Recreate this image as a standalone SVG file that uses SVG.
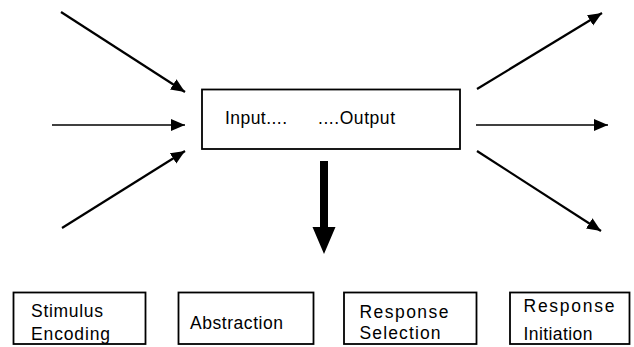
<svg xmlns="http://www.w3.org/2000/svg" width="634" height="347" viewBox="0 0 634 347">
<defs>
<marker id="ah" markerUnits="userSpaceOnUse" markerWidth="16" markerHeight="14" refX="14" refY="6" orient="auto" viewBox="0 0 16 14">
<path d="M0,0 L14,6 L0,12 z" fill="#000"/>
</marker>
<style>
.box{fill:#fff;stroke:#000;stroke-width:1.8}
.t{font-family:"Liberation Sans",Arial,sans-serif;font-size:17.5px;fill:#000}
.c{stroke:#000;fill:none;marker-end:url(#ah)}
.d{stroke-width:2.2}
.h{stroke-width:1.5}
</style>
</defs>
<rect width="634" height="347" fill="#fff"/>
<g id="connectors">
<line class="c d" x1="61" y1="12" x2="185" y2="92"/>
<line class="c h" x1="52" y1="125" x2="185" y2="125"/>
<line class="c d" x1="62" y1="228" x2="185" y2="151"/>
<line class="c d" x1="477" y1="89" x2="602" y2="13"/>
<line class="c h" x1="476" y1="125" x2="608" y2="125"/>
<line class="c d" x1="477" y1="151" x2="601" y2="231"/>
<polygon points="320,161 328,161 328,227 335.5,227 324,254 312.5,227 320,227" fill="#000"/>
</g>
<g id="process">
<rect class="box" x="202" y="89.5" width="258" height="59.5"/>
<text class="t" x="225" y="124" textLength="62" lengthAdjust="spacing">Input....</text>
<text class="t" x="318" y="124" textLength="77" lengthAdjust="spacing">....Output</text>
</g>
<g id="stimulus-encoding">
<rect class="box" x="13.5" y="292.5" width="132" height="51.5"/>
<text class="t" x="31" y="317" textLength="72" lengthAdjust="spacing">Stimulus</text>
<text class="t" x="31" y="339.5" textLength="79" lengthAdjust="spacing">Encoding</text>
</g>
<g id="abstraction">
<rect class="box" x="178.5" y="292.5" width="135" height="51.5"/>
<text class="t" x="190" y="328.5" textLength="93" lengthAdjust="spacing">Abstraction</text>
</g>
<g id="response-selection">
<rect class="box" x="344" y="292.5" width="132.5" height="51.5"/>
<text class="t" x="359.5" y="318" textLength="89" lengthAdjust="spacing">Response</text>
<text class="t" x="359.5" y="338.5" textLength="81" lengthAdjust="spacing">Selection</text>
</g>
<g id="response-initiation">
<rect class="box" x="510" y="292.5" width="119.5" height="51.5"/>
<text class="t" x="523.5" y="311.5" textLength="91" lengthAdjust="spacing">Response</text>
<text class="t" x="523.5" y="340" textLength="69" lengthAdjust="spacing">Initiation</text>
</g>
</svg>
